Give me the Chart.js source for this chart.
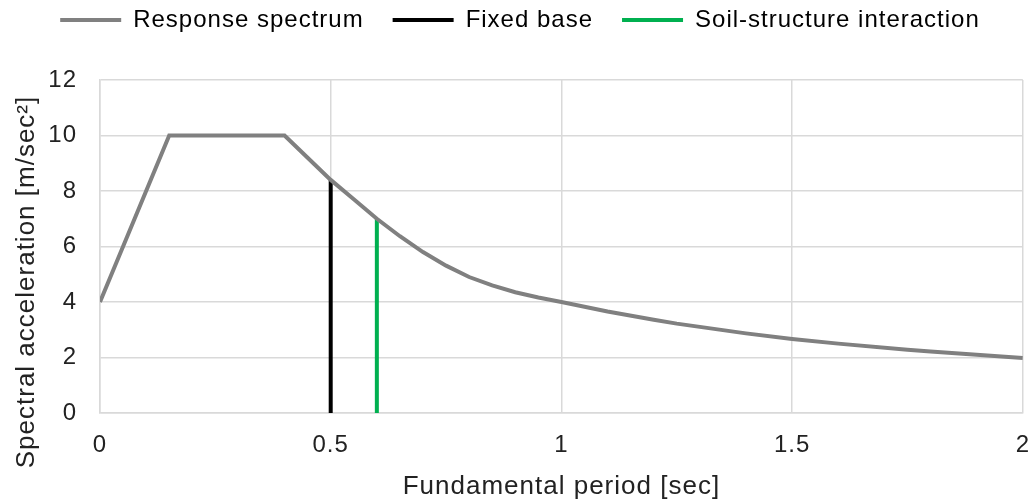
<!DOCTYPE html>
<html>
<head>
<meta charset="utf-8">
<script src="https://cdn.jsdelivr.net/npm/chart.js@4"></script>
<style>
  body { margin: 0; background: #fff; }
  #wrap { width: 1030px; height: 503px; position: relative; }
</style>
</head>
<body>
<div id="wrap"><canvas id="myChart"></canvas></div>
<script>
// values
const periods  = [0, 0.15, 0.4, 0.45, 0.5, 0.55, 0.6, 0.65, 0.7, 0.75, 0.8, 0.85, 0.9, 0.95, 1.0, 1.1, 1.2, 1.25, 1.4, 1.5, 1.6, 1.75, 1.8, 2.0];
const spectrum = [4, 10, 10, 9.2, 8.4, 7.7, 7.0, 6.37, 5.8, 5.31, 4.9, 4.6, 4.35, 4.16, 4.0, 3.66, 3.36, 3.22, 2.87, 2.67, 2.5, 2.28, 2.22, 1.98];
const fixedX = [0.5, 0.5];
const fixedY = [0, 8.4];
const ssiX = [0.6, 0.6];
const ssiY = [0, 7.0];
const xTicks = [0, 0.5, 1, 1.5, 2];
const yTicks = [0, 2, 4, 6, 8, 10, 12];

const pts = (xs, ys) => xs.map((x, i) => ({ x: x, y: ys[i] }));

Chart.defaults.font.family = '"Liberation Sans", Arial, sans-serif';
Chart.defaults.color = '#222';

const spacing = {
  id: 'spacing',
  beforeLayout(c) { c.ctx.letterSpacing = '1px'; },
  beforeDraw(c) { c.ctx.letterSpacing = '1px'; }
};

// extra room between legend and plot
const legendGap = {
  id: 'legendGap',
  beforeInit(chart) {
    const fit = chart.legend.fit;
    chart.legend.fit = function () {
      fit.call(this);
      this.height += 38;
    };
  }
};

const yTitle = {
  id: 'yTitle',
  afterDraw(chart) {
    const ctx = chart.ctx;
    ctx.save();
    ctx.letterSpacing = '1px';
    ctx.font = '26px "Liberation Sans", Arial, sans-serif';
    ctx.fillStyle = '#222';
    ctx.translate(27, 282);
    ctx.rotate(-Math.PI / 2);
    ctx.textAlign = 'center';
    ctx.textBaseline = 'middle';
    ctx.fillText('Spectral acceleration [m/sec\u00b2]', 0, 0);
    ctx.restore();
  }
};

const ctx = document.getElementById('myChart').getContext('2d');
const myChart = new Chart(ctx, {
  type: 'line',
  data: {
    datasets: [
      { label: 'Response spectrum', data: pts(periods, spectrum), borderColor: '#808080', backgroundColor: '#808080', borderWidth: 4, pointRadius: 0, tension: 0 },
      { label: 'Fixed base', data: pts(fixedX, fixedY), borderColor: '#000000', backgroundColor: '#000000', borderWidth: 4, pointRadius: 0 },
      { label: 'Soil-structure interaction', data: pts(ssiX, ssiY), borderColor: '#00b050', backgroundColor: '#00b050', borderWidth: 4, pointRadius: 0 }
    ]
  },
  options: {
    responsive: true,
    maintainAspectRatio: false,
    animation: false,
    layout: { padding: { left: 10, right: 0, top: 2, bottom: 0 } },
    plugins: {
      tooltip: { enabled: false },
      legend: {
        position: 'top',
        labels: {
          boxWidth: 61,
          boxHeight: 4,
          padding: 6,
          font: { size: 24 },
          color: '#222',
          generateLabels: chart => chart.data.datasets.map((ds, i) => ({
            text: ds.label + (i < chart.data.datasets.length - 1 ? '   ' : ''),
            fillStyle: ds.borderColor,
            strokeStyle: ds.borderColor,
            lineWidth: 0,
            hidden: false,
            datasetIndex: i
          }))
        }
      }
    },
    scales: {
      x: {
        type: 'linear',
        min: xTicks[0],
        max: xTicks[xTicks.length - 1],
        afterBuildTicks: s => { s.ticks = xTicks.map(v => ({ value: v })); },
        grid: { color: '#d9d9d9', lineWidth: 1.5, drawTicks: false },
        border: { color: '#d9d9d9', width: 1.5 },
        ticks: { padding: 0, font: { size: 24, lineHeight: 2.667 }, color: '#222', callback: v => String(v) },
        title: { display: true, text: 'Fundamental period [sec]', font: { size: 26, lineHeight: 0.615 }, color: '#222', padding: { top: 2, bottom: 8 } }
      },
      y: {
        min: yTicks[0],
        max: yTicks[yTicks.length - 1],
        afterBuildTicks: s => { s.ticks = yTicks.map(v => ({ value: v })); },
        afterFit: s => { s.width = 90; },
        grid: { color: '#d9d9d9', lineWidth: 1.5, drawTicks: false },
        border: { color: '#d9d9d9', width: 1.5 },
        ticks: { padding: 23, font: { size: 24, lineHeight: 1 }, color: '#222', callback: v => String(v) }
      }
    }
  },
  plugins: [spacing, legendGap, yTitle]
});
</script>
</body>
</html>
